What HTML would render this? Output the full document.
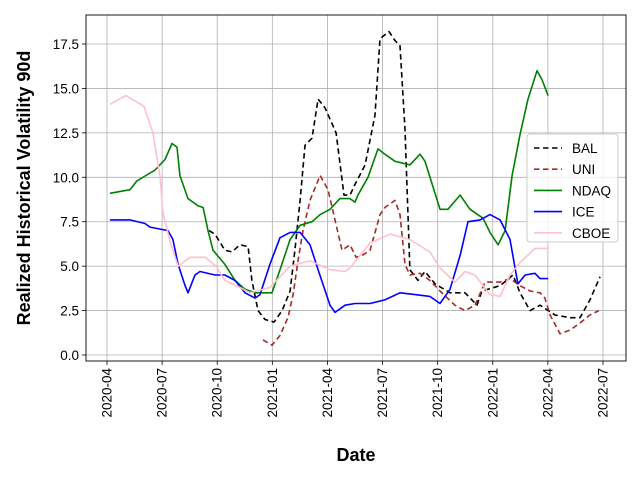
<!DOCTYPE html>
<html><head><meta charset="utf-8"><style>body{margin:0;background:#fff}svg{display:block;font-family:"Liberation Sans","DejaVu Sans",sans-serif}</style></head>
<body>
<svg id="chart" width="640" height="480"></svg>
<script>
const yTicks=[0,2.5,5,7.5,10,12.5,15,17.5];
const xTickLabels=["2020-04","2020-07","2020-10","2021-01","2021-04","2021-07","2021-10","2022-01","2022-04","2022-07"];
const balMonths=[5.55,5.88,6.42,6.80,7.24,7.68,7.89,8.22,8.60,9.09,9.53,9.97,10.23,10.51,10.78,11.16,11.49,11.87,12.47,12.90,13.23,13.50,14.05,14.59,14.86,15.35,15.68,15.95,16.22,16.49,16.93,17.31,17.86,18.67,19.49,20.14,20.41,21.40,22.10,22.48,23.03,23.57,24.39,25.21,25.75,26.29,26.84];
const balValues=[7.0,6.8,5.9,5.8,6.2,6.1,4.2,2.5,2.0,1.85,2.5,3.6,5.9,8.7,11.8,12.2,14.4,13.9,12.5,9.0,9.0,9.6,10.7,13.5,17.8,18.2,17.7,17.4,12.7,4.8,4.2,4.7,4.0,3.5,3.5,2.8,3.6,3.9,4.5,3.5,2.5,2.8,2.25,2.1,2.1,3.1,4.4];
const uniMonths=[8.49,8.98,9.42,9.85,10.13,10.40,10.67,11.05,11.60,12.03,12.41,12.79,13.23,13.56,13.88,14.32,14.86,15.13,15.68,15.95,16.22,16.49,17.04,17.58,18.13,18.94,19.49,20.03,20.58,21.40,21.94,22.48,23.03,23.57,23.84,24.12,24.66,25.21,25.75,26.29,26.78];
const uniValues=[0.85,0.55,1.1,2.1,3.4,5.3,7.0,8.7,10.1,9.3,7.6,5.9,6.2,5.5,5.6,5.9,7.9,8.3,8.7,7.9,5.1,4.5,4.6,4.2,3.6,2.8,2.5,2.8,4.1,4.1,4.3,3.9,3.6,3.5,3.2,2.25,1.2,1.4,1.8,2.25,2.5];
const ndaqMonths=[0.16,1.25,1.63,2.12,2.61,3.16,3.54,3.81,3.97,4.41,4.95,5.23,5.50,5.77,6.42,6.97,7.51,8.06,8.60,8.98,9.42,9.97,10.51,11.16,11.60,12.14,12.68,13.23,13.50,13.66,14.21,14.75,15.13,15.68,16.49,17.04,17.31,18.13,18.56,19.22,19.76,20.47,20.85,21.29,21.67,22.05,22.48,22.92,23.41,23.68,24.01];
const ndaqValues=[9.1,9.3,9.8,10.1,10.4,11.0,11.9,11.7,10.1,8.8,8.4,8.3,7.0,5.9,5.1,4.2,3.7,3.5,3.5,3.5,4.8,6.5,7.3,7.5,7.9,8.2,8.8,8.8,8.6,9.0,10.0,11.6,11.3,10.9,10.7,11.3,10.9,8.2,8.2,9.0,8.2,7.7,6.9,6.2,7.0,10.1,12.4,14.4,16.0,15.5,14.6];
const iceMonths=[0.16,1.25,2.07,2.34,3.32,3.59,3.87,4.25,4.41,4.79,5.06,5.88,6.42,6.97,7.51,8.06,8.33,8.87,9.42,9.97,10.51,11.05,11.49,12.14,12.41,12.96,13.50,14.32,15.13,15.95,16.77,17.58,18.13,18.67,19.22,19.65,20.31,20.85,21.40,21.94,22.37,22.76,23.30,23.57,24.01];
const iceValues=[7.6,7.6,7.4,7.2,7.0,6.5,5.1,3.9,3.5,4.5,4.7,4.5,4.5,4.2,3.5,3.2,3.4,5.1,6.6,6.9,6.9,6.2,4.8,2.8,2.4,2.8,2.9,2.9,3.1,3.5,3.4,3.3,2.9,3.7,5.6,7.5,7.6,7.9,7.6,6.5,4.0,4.5,4.6,4.3,4.3];
const cboeMonths=[0.16,1.03,1.52,2.01,2.50,2.89,3.05,3.43,3.87,4.52,5.34,5.93,6.42,7.24,7.78,8.87,9.97,11.05,12.14,12.96,13.23,14.32,15.41,16.49,17.58,18.13,18.94,19.49,20.03,20.85,21.40,21.94,22.48,23.30,24.01];
const cboeValues=[14.1,14.6,14.3,14.0,12.5,10.0,8.0,6.4,5.0,5.5,5.5,5.0,4.2,3.8,3.5,3.8,5.0,5.3,4.8,4.7,4.9,6.3,6.8,6.5,5.8,4.9,4.1,4.7,4.5,3.4,3.3,4.5,5.2,6.0,6.0];

const NS="http://www.w3.org/2000/svg";
const svg=document.getElementById('chart');
const L=86,R=626,T=15,B=361;
const xs=m=>107+m*18.37;
const ys=v=>355-v*17.77;
function mk(tag,attrs,parent){const e=document.createElementNS(NS,tag);for(const k in attrs)e.setAttribute(k,attrs[k]);(parent||svg).appendChild(e);return e;}
// grid
xTickLabels.forEach((lab,i)=>{const x=xs(i*3);
 const g=mk('line',{x1:x,x2:x,y1:T,y2:B,stroke:'#b0b0b0','stroke-width':0.8});
 
 
 mk('line',{x1:x,x2:x,y1:B,y2:B+4,stroke:'#000','stroke-width':0.8});
 const t=mk('text',{x:0,y:0,transform:`translate(${x+4.5},${B+7}) rotate(-90)`,'text-anchor':'end','font-size':13.5,fill:'#000'});
 t.textContent=lab;
 
 
});
yTicks.forEach(v=>{const y=ys(v);
 const g=mk('line',{x1:L,x2:R,y1:y,y2:y,stroke:'#b0b0b0','stroke-width':0.8});
 
 
 mk('line',{x1:L-4,x2:L,y1:y,y2:y,stroke:'#000','stroke-width':0.8});
 const t=mk('text',{x:L-7,y:y+5,'text-anchor':'end','font-size':13.5,fill:'#000'});
 t.textContent=v.toFixed(1);
 
 
});
const series=[
 ['BAL',balMonths,balValues,'#000','5.5,3.5'],
 ['UNI',uniMonths,uniValues,'#a52a2a','5.5,3.5'],
 ['NDAQ',ndaqMonths,ndaqValues,'#008000',''],
 ['ICE',iceMonths,iceValues,'#0000ff',''],
 ['CBOE',cboeMonths,cboeValues,'#ffc0cb','']];
series.forEach(s=>{
 const d=s[1].map((m,i)=>(i?'L':'M')+xs(m).toFixed(1)+','+ys(s[2][i]).toFixed(1)).join(' ');
 const p=mk('path',{d:d,fill:'none',stroke:s[3],'stroke-width':1.6,'stroke-dasharray':s[4],'stroke-linejoin':'round'});
 
 
});
const frame=mk('rect',{x:L,y:T,width:R-L,height:B-T,fill:'none',stroke:'#000','stroke-width':0.9});


// legend
const lg=mk('g',{});


mk('rect',{x:527,y:134,width:91,height:108,rx:3,fill:'#fff','fill-opacity':0.8,stroke:'#ccc'},lg);
series.forEach((s,i)=>{const y=148+i*21.2;
 const e=mk('g',{},lg);
 
 
 mk('line',{x1:534,x2:562,y1:y,y2:y,stroke:s[3],'stroke-width':1.6,'stroke-dasharray':s[4]},e);
 const t=mk('text',{x:572,y:y+5,'font-size':13.5,fill:'#000'},e);
 t.textContent=s[0];
});
const xt=mk('text',{x:356,y:461,'text-anchor':'middle','font-size':18,'font-weight':'bold'});
xt.textContent='Date';


const yt=mk('text',{x:0,y:0,transform:'translate(30,188) rotate(-90)','text-anchor':'middle','font-size':18,'font-weight':'bold'});
yt.textContent='Realized Historical Volatility 90d';


</script>
</body></html>
